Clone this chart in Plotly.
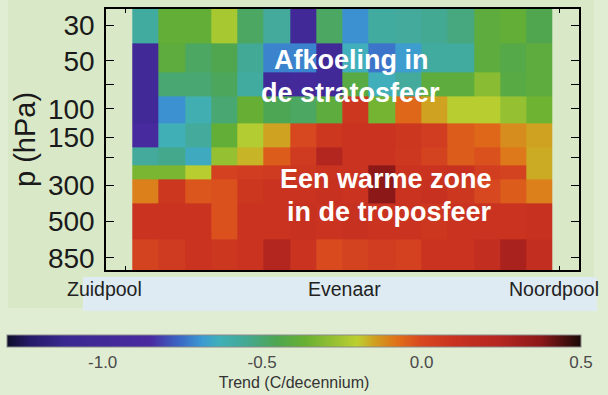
import numpy as np
import plotly.graph_objects as go

W, H = 608, 395

# ---------------- data ----------------
latitudes = [-75, -65, -55, -45, -35, -25, -15, -5, 5, 15, 25, 35, 45, 55, 65, 75]
levels = [30, 50, 70, 100, 150, 200, 250, 300, 500, 850]
y_tickvals = [30, 50, 70, 100, 150, 200, 300, 500, 850]
y_ticktext = ["30", "50", "", "100", "150", "", "300", "500", "850"]
cb_tickvals = [-1.0, -0.5, 0.0, 0.5]
cb_ticktext = ["-1.0", "-0.5", "0.0", "0.5"]

trend_30 = [-0.58, -0.38, -0.38, -0.24, -0.48, -0.57, -1.00, -0.48, -0.70, -0.58, -0.57, -0.55, -0.52, -0.40, -0.38, -0.45]
trend_50 = [-1.00, -0.40, -0.48, -0.45, -0.56, -0.72, -0.72, -1.00, -0.64, -0.74, -0.68, -0.58, -0.58, -0.40, -0.43, -0.40]
trend_70 = [-1.00, -0.50, -0.50, -0.47, -0.58, -1.00, -0.95, -1.00, -0.42, -0.64, -0.57, -0.40, -0.40, -0.30, -0.42, -0.40]
trend_100 = [-1.00, -0.70, -0.62, -0.50, -0.37, -0.46, -0.48, -0.40, 0.08, -0.34, -0.06, -0.15, -0.21, -0.21, -0.28, -0.35]
trend_150 = [-0.90, -0.63, -0.57, -0.38, -0.22, -0.15, 0.00, 0.08, 0.10, 0.10, 0.08, 0.05, -0.04, -0.06, -0.12, -0.15]
trend_200 = [-0.57, -0.54, -0.65, -0.28, -0.17, -0.04, 0.06, 0.25, 0.10, 0.10, 0.07, 0.02, -0.04, -0.02, -0.09, -0.16]
trend_250 = [-0.33, -0.33, -0.21, 0.03, 0.05, 0.06, 0.08, 0.10, 0.10, 0.37, 0.10, 0.10, 0.12, 0.04, 0.02, -0.16]
trend_300 = [-0.10, 0.08, -0.03, -0.02, 0.08, 0.10, 0.10, 0.12, 0.10, 0.37, 0.10, 0.12, 0.08, 0.00, -0.04, -0.10]
trend_500 = [0.10, 0.10, 0.10, -0.02, 0.10, 0.10, 0.12, 0.10, 0.12, 0.10, 0.10, 0.08, 0.10, 0.10, 0.10, 0.12]
trend_850 = [0.02, 0.06, 0.10, 0.08, 0.10, 0.25, 0.10, -0.01, 0.02, 0.05, 0.03, 0.10, 0.10, 0.15, 0.28, 0.15]

z = [trend_30, trend_50, trend_70, trend_100, trend_150,
     trend_200, trend_250, trend_300, trend_500, trend_850]

# cell edges derived from centres
lat = np.array(latitudes, dtype=float)
dlat = lat[1] - lat[0]
x_edges = np.concatenate([lat - dlat / 2, [lat[-1] + dlat / 2]])
p = np.array(levels, dtype=float)
mid = np.sqrt(p[:-1] * p[1:])
y_edges = np.concatenate([[p[0] ** 2 / mid[0]], mid, [p[-1] ** 2 / mid[-1]]])

colorscale = [
    [0.00, "#0e0e2a"], [0.04, "#251a68"], [0.10, "#3a2890"], [0.25, "#4a2aa0"],
    [0.30, "#3a66c4"], [0.34, "#3c9ad2"], [0.37, "#40b0b8"], [0.42, "#44a890"],
    [0.47, "#4ea650"], [0.52, "#68b032"], [0.58, "#a0c432"], [0.61, "#bcd030"],
    [0.64, "#d0a020"], [0.68, "#e07018"], [0.72, "#d84820"], [0.78, "#c83220"],
    [0.86, "#b42620"], [0.93, "#8c1818"], [1.00, "#1a0808"],
]


def px(xp):
    return xp / W


def py(yp):
    return (H - yp) / H


FONT = "Liberation Sans, Arial, Helvetica, sans-serif"

fig = go.Figure()
fig.add_trace(go.Heatmap(
    x=x_edges, y=y_edges, z=z,
    zmin=-1.3, zmax=0.5, colorscale=colorscale,
    colorbar=dict(
        orientation="h", x=px(294), xanchor="center",
        y=py(335), yanchor="top", ypad=0, xpad=0,
        len=574 / W, lenmode="fraction",
        thickness=12, thicknessmode="pixels",
        outlinewidth=1, outlinecolor="#8a8a8a",
        tickvals=cb_tickvals, ticktext=cb_ticktext, ticks="",
        tickfont=dict(family=FONT, size=17, color="#4a4a4a"),
        title=dict(text="Trend (C/decennium)", side="bottom",
                   font=dict(family=FONT, size=16, color="#333333")),
    ),
    hoverinfo="skip",
))

fig.update_layout(
    width=W, height=H, autosize=False,
    margin=dict(l=0, r=0, t=0, b=0, autoexpand=False),
    paper_bgcolor="#e1edd3",
    plot_bgcolor="white",
    showlegend=False,
    xaxis=dict(
        domain=[px(106), px(579)], range=[-90, 90],
        showgrid=False, zeroline=False,
        showline=True, linecolor="black", linewidth=1.5, mirror="ticks",
        ticks="inside", ticklen=4, tickcolor="black",
        tickvals=[-82.5, 82.5], showticklabels=False,
    ),
    yaxis=dict(
        domain=[py(270), py(9)], type="log",
        range=[np.log10(1010), np.log10(23.8)],
        showgrid=False, zeroline=False,
        showline=True, linecolor="black", linewidth=1.5, mirror="ticks",
        ticks="inside", ticklen=8, tickcolor="black",
        tickvals=y_tickvals, ticktext=y_ticktext,
        tickfont=dict(family=FONT, size=28, color="#1a1a1a"),
        ticklabelstandoff=4,
    ),
    shapes=[
        dict(type="rect", xref="paper", yref="paper", layer="below",
             x0=px(8), x1=px(594), y0=py(308), y1=py(0),
             fillcolor="#d9e8c7", line=dict(width=0)),
        dict(type="rect", xref="paper", yref="paper", layer="below",
             x0=px(83), x1=px(597), y0=py(311), y1=py(277),
             fillcolor="#deebf3", line=dict(width=0)),
    ],
    annotations=[
        dict(text="p (hPa)", xref="paper", yref="paper", x=px(25), y=py(140),
             textangle=-90, showarrow=False, xanchor="center", yanchor="middle",
             font=dict(family=FONT, size=29, color="#1a1a1a")),
        dict(text="Zuidpool", xref="paper", yref="paper", x=px(104), y=py(289),
             showarrow=False, xanchor="center", yanchor="middle",
             font=dict(family=FONT, size=19.5, color="#222222")),
        dict(text="Evenaar", xref="paper", yref="paper", x=px(344.5), y=py(289),
             showarrow=False, xanchor="center", yanchor="middle",
             font=dict(family=FONT, size=19.5, color="#222222")),
        dict(text="Noordpool", xref="paper", yref="paper", x=px(553.5), y=py(289),
             showarrow=False, xanchor="center", yanchor="middle",
             font=dict(family=FONT, size=19.5, color="#222222")),
        dict(text="Afkoeling in", xref="paper", yref="paper", x=px(351.5), y=py(60),
             showarrow=False, xanchor="center", yanchor="middle",
             font=dict(family=FONT, size=27, color="white", weight="bold")),
        dict(text="de stratosfeer", xref="paper", yref="paper", x=px(350), y=py(93),
             showarrow=False, xanchor="center", yanchor="middle",
             font=dict(family=FONT, size=27, color="white", weight="bold")),
        dict(text="Een warme zone", xref="paper", yref="paper", x=px(385.5), y=py(179),
             showarrow=False, xanchor="center", yanchor="middle",
             font=dict(family=FONT, size=27, color="white", weight="bold")),
        dict(text="in de troposfeer", xref="paper", yref="paper", x=px(389), y=py(212),
             showarrow=False, xanchor="center", yanchor="middle",
             font=dict(family=FONT, size=27, color="white", weight="bold")),
    ],
)

fig.write_html("out.html", config={"displayModeBar": False},
               post_script="document.body.style.margin='0px';")
